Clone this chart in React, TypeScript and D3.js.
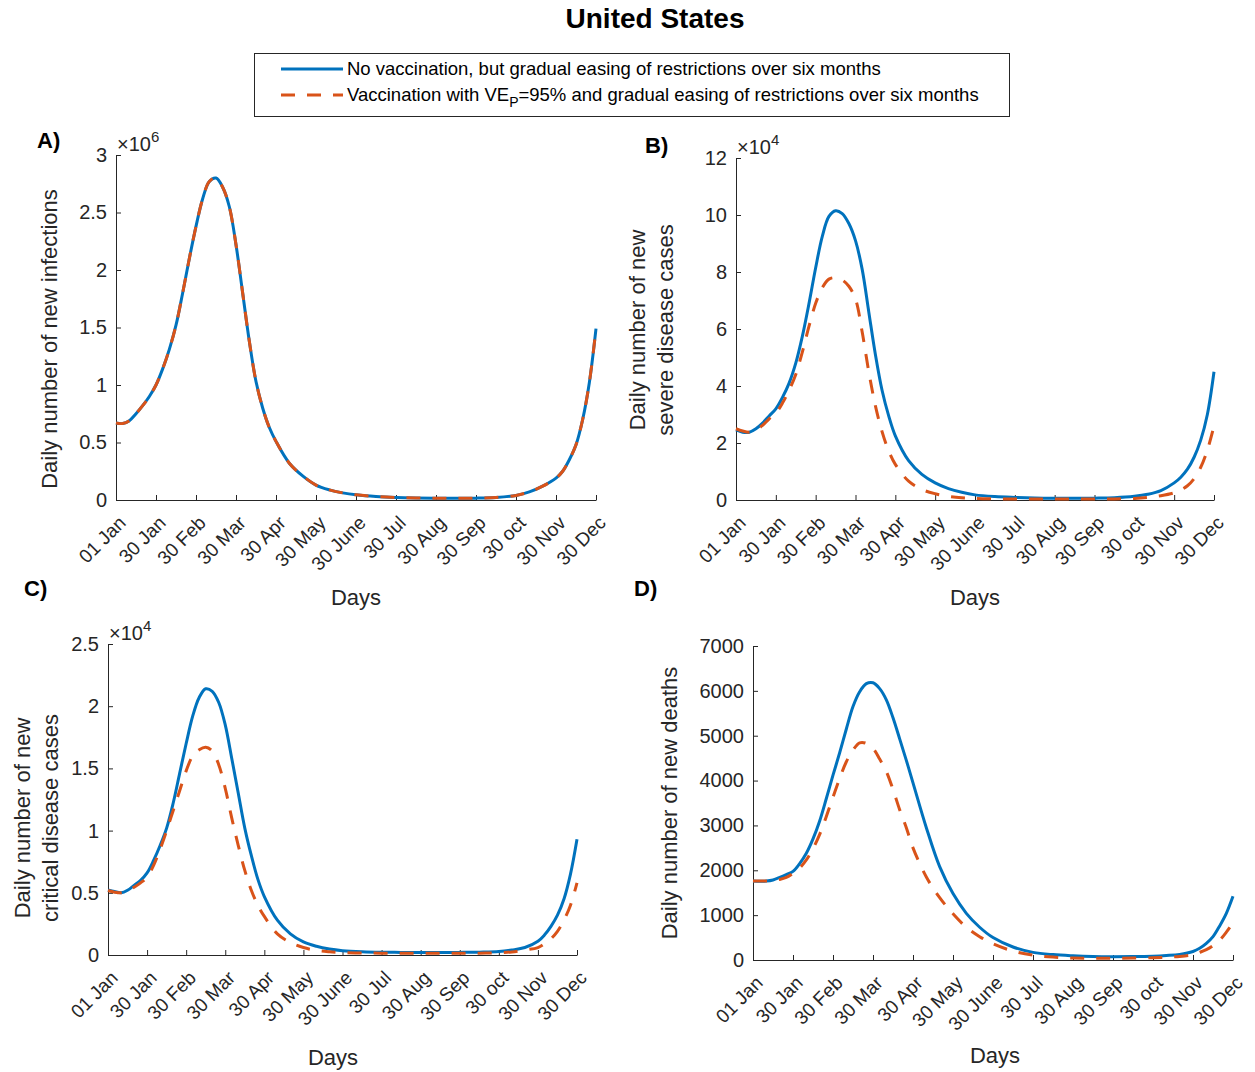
import React, { useRef, useEffect } from "react";
import * as d3 from "d3";

// day grid shared by every series (day 0 = 01 Jan)
const days = [
  0, 5, 10, 15, 20, 25, 30, 35, 40, 45, 50, 55, 60, 65, 70, 75, 80, 85, 90, 95,
  100, 105, 110, 115, 120, 130, 140, 150, 160, 170, 180, 195, 210, 225, 240,
  255, 270, 285, 300, 310, 320, 330, 335, 340, 345, 350, 355, 360,
];

const tickDays = [0, 30, 60, 90, 120, 150, 180, 210, 240, 270, 300, 330, 360];
const tickLabels = [
  "01 Jan", "30 Jan", "30 Feb", "30 Mar", "30 Apr", "30 May", "30 June",
  "30 Jul", "30 Aug", "30 Sep", "30 oct", "30 Nov", "30 Dec",
];

// A) new infections, x10^6
const infectionsNoVax = [
  0.67, 0.665, 0.69, 0.75, 0.82, 0.9, 1.0, 1.14, 1.31, 1.52, 1.8, 2.1, 2.38,
  2.62, 2.77, 2.8, 2.72, 2.55, 2.22, 1.8, 1.38, 1.03, 0.8, 0.63, 0.51, 0.32,
  0.21, 0.13, 0.088, 0.062, 0.045, 0.03, 0.022, 0.018, 0.016, 0.015, 0.016,
  0.022, 0.04, 0.07, 0.12, 0.19, 0.25, 0.35, 0.48, 0.7, 1.02, 1.49,
];
const infectionsVax = [
  0.67, 0.665, 0.69, 0.75, 0.82, 0.9, 1.0, 1.14, 1.31, 1.52, 1.8, 2.1, 2.38,
  2.62, 2.77, 2.8, 2.72, 2.55, 2.22, 1.8, 1.38, 1.03, 0.8, 0.63, 0.51, 0.32,
  0.21, 0.13, 0.088, 0.062, 0.045, 0.03, 0.022, 0.018, 0.016, 0.015, 0.016,
  0.022, 0.04, 0.07, 0.12, 0.19, 0.25, 0.35, 0.48, 0.7, 1.02, 1.49,
];

// B) new severe disease cases, x10^4
const severeNoVax = [
  2.46, 2.38, 2.38, 2.5, 2.7, 2.95, 3.2, 3.6, 4.1, 4.8, 5.75, 6.9, 8.15, 9.25,
  9.95, 10.15, 10.05, 9.7, 9.1, 8.1, 6.6, 5.1, 3.85, 2.95, 2.25, 1.38, 0.9,
  0.6, 0.4, 0.27, 0.18, 0.12, 0.09, 0.07, 0.06, 0.06, 0.065, 0.08, 0.13, 0.2,
  0.33, 0.6, 0.8, 1.08, 1.5, 2.1, 3.0, 4.5,
];
const severeVax = [
  2.5, 2.42, 2.38, 2.45, 2.62, 2.85, 3.05, 3.4, 3.85, 4.4, 5.2, 6.1, 6.9,
  7.45, 7.75, 7.8, 7.72, 7.5, 7.05, 5.9, 4.5, 3.3, 2.4, 1.72, 1.25, 0.66,
  0.37, 0.22, 0.13, 0.08, 0.055, 0.04, 0.035, 0.033, 0.032, 0.032, 0.033,
  0.038, 0.055, 0.09, 0.15, 0.25, 0.35, 0.5, 0.75, 1.15, 1.75, 2.6,
];

// C) new critical disease cases, x10^4
const criticalNoVax = [
  0.523, 0.51, 0.5, 0.52, 0.56, 0.6, 0.66, 0.76, 0.88, 1.02, 1.22, 1.46, 1.7,
  1.92, 2.07, 2.14, 2.12, 2.03, 1.85, 1.58, 1.3, 1.02, 0.8, 0.61, 0.47, 0.28,
  0.17, 0.105, 0.07, 0.048, 0.035, 0.026, 0.022, 0.021, 0.02, 0.02, 0.021,
  0.023, 0.028, 0.04, 0.06, 0.11, 0.16, 0.23, 0.32, 0.45, 0.65, 0.93,
];
const criticalVax = [
  0.518, 0.505, 0.5, 0.515, 0.545, 0.58, 0.625, 0.72, 0.85, 1.0, 1.16, 1.32,
  1.48, 1.6, 1.65, 1.67, 1.64, 1.53, 1.34, 1.1, 0.88, 0.68, 0.52, 0.4, 0.31,
  0.17, 0.1, 0.06, 0.037, 0.026, 0.02, 0.016, 0.015, 0.014, 0.014, 0.014,
  0.014, 0.015, 0.018, 0.025, 0.04, 0.06, 0.09, 0.13, 0.19, 0.28, 0.4, 0.58,
];

// D) new deaths
const deathsNoVax = [
  1760, 1755, 1760, 1785, 1840, 1905, 1975, 2150, 2380, 2700, 3100, 3600,
  4120, 4620, 5150, 5650, 5980, 6160, 6180, 6050, 5800, 5400, 4930, 4450,
  3950, 2950, 2080, 1480, 1040, 730, 500, 290, 170, 120, 95, 80, 75, 76, 85,
  100, 125, 190, 260, 370, 520, 760, 1040, 1420,
];
const deathsVax = [
  1760, 1760, 1762, 1775, 1795, 1840, 1930, 2050, 2230, 2480, 2800, 3200,
  3630, 4050, 4420, 4680, 4840, 4830, 4720, 4480, 4200, 3800, 3350, 2950,
  2500, 1850, 1390, 1030, 730, 520, 360, 200, 110, 65, 45, 40, 40, 42, 50, 62,
  80, 120, 170, 230, 320, 440, 620, 830,
];

const legendLabels = [
  "No vaccination, but gradual easing of restrictions over six months",
  "Vaccination with VE",
];

const BLUE = "#0072BD";
const ORANGE = "#D95319";
const AXIS = "#262626";
const FONT = "'Liberation Sans', Arial, Helvetica, sans-serif";
const DASH = "14,12";

const panels = [
  {
    letter: "A)", letterPos: [37, 148],
    left: 116, right: 596, top: 155, bottom: 500,
    yMax: 3, yStep: 0.5, exponent: "6",
    yLabel: ["Daily number of new infections"], yLabelX: [57], yLabelY: 339,
    daysPos: [356, 605],
    noVax: infectionsNoVax, vax: infectionsVax,
  },
  {
    letter: "B)", letterPos: [645, 153],
    left: 736, right: 1214, top: 158, bottom: 500,
    yMax: 12, yStep: 2, exponent: "4",
    yLabel: ["Daily number of new", "severe disease cases"], yLabelX: [645, 673], yLabelY: 330,
    daysPos: [975, 605],
    noVax: severeNoVax, vax: severeVax,
  },
  {
    letter: "C)", letterPos: [24, 596],
    left: 108, right: 577, top: 644, bottom: 955,
    yMax: 2.5, yStep: 0.5, exponent: "4",
    yLabel: ["Daily number of new", "critical disease cases"], yLabelX: [30, 58], yLabelY: 818,
    daysPos: [333, 1065],
    noVax: criticalNoVax, vax: criticalVax,
  },
  {
    letter: "D)", letterPos: [634, 596],
    left: 753, right: 1233, top: 646, bottom: 960,
    yMax: 7000, yStep: 1000, exponent: null,
    yLabel: ["Daily number of new deaths"], yLabelX: [677], yLabelY: 803,
    daysPos: [995, 1063],
    noVax: deathsNoVax, vax: deathsVax,
  },
];

function App() {
  const svgRef = useRef<SVGSVGElement>(null);

  useEffect(() => {
    document.body.style.margin = "0";
    const svg = d3.select(svgRef.current);
    svg.selectAll("*").remove();
    svg.attr("font-family", FONT);

    // title
    svg
      .append("text")
      .attr("x", 655)
      .attr("y", 28)
      .attr("text-anchor", "middle")
      .attr("font-size", 28)
      .attr("font-weight", "bold")
      .attr("fill", "#000")
      .text("United States");

    // legend
    const legend = svg.append("g");
    legend
      .append("rect")
      .attr("x", 254.5)
      .attr("y", 53.5)
      .attr("width", 755)
      .attr("height", 63)
      .attr("fill", "#fff")
      .attr("stroke", AXIS)
      .attr("stroke-width", 1);
    legend
      .append("line")
      .attr("x1", 281).attr("x2", 343).attr("y1", 69).attr("y2", 69)
      .attr("stroke", BLUE).attr("stroke-width", 3);
    legend
      .append("line")
      .attr("x1", 281).attr("x2", 343).attr("y1", 95).attr("y2", 95)
      .attr("stroke", ORANGE).attr("stroke-width", 3)
      .attr("stroke-dasharray", DASH);
    legend
      .append("text")
      .attr("x", 347).attr("y", 75)
      .attr("font-size", 18.5).attr("fill", "#000")
      .text(legendLabels[0]);
    const t2 = legend
      .append("text")
      .attr("x", 347).attr("y", 101)
      .attr("font-size", 18.5).attr("fill", "#000");
    t2.append("tspan").text(legendLabels[1]);
    t2.append("tspan").attr("dy", 6).attr("font-size", 14).text("P");
    t2.append("tspan").attr("dy", -6).text("=95% and gradual easing of restrictions over six months");

    panels.forEach((p) => {
      const g = svg.append("g");
      const x = d3.scaleLinear().domain([0, 360]).range([p.left, p.right]);
      const y = d3.scaleLinear().domain([0, p.yMax]).range([p.bottom, p.top]);
      const yTicks = d3.range(0, p.yMax + p.yStep / 2, p.yStep);

      // y axis
      g.append("g")
        .attr("transform", `translate(${p.left},0)`)
        .call(
          d3.axisLeft(y)
            .tickValues(yTicks)
            .tickSizeInner(-5)
            .tickSizeOuter(0)
            .tickPadding(9)
            .tickFormat(d3.format("~g"))
        )
        .call((a) => a.select(".domain").attr("stroke", AXIS))
        .call((a) => a.selectAll("line").attr("stroke", AXIS))
        .call((a) =>
          a.selectAll("text")
            .attr("font-size", 20)
            .attr("font-family", FONT)
            .attr("fill", AXIS)
        );

      // x axis
      g.append("g")
        .attr("transform", `translate(0,${p.bottom})`)
        .call(
          d3.axisBottom(x)
            .tickValues(tickDays)
            .tickSizeInner(-5)
            .tickSizeOuter(0)
            .tickFormat(() => "")
        )
        .call((a) => a.select(".domain").attr("stroke", AXIS))
        .call((a) => a.selectAll("line").attr("stroke", AXIS));

      g.append("g")
        .selectAll("text")
        .data(tickDays)
        .join("text")
        .attr("transform", (d) => `translate(${x(d) + 11},${p.bottom + 24}) rotate(-45)`)
        .attr("text-anchor", "end")
        .attr("font-size", 19)
        .attr("fill", AXIS)
        .text((d, i) => tickLabels[i]);

      // exponent
      if (p.exponent) {
        const ex = g
          .append("text")
          .attr("x", p.left + 1)
          .attr("y", p.top - 4)
          .attr("font-size", 20)
          .attr("fill", AXIS);
        ex.append("tspan").text("\u00d710");
        ex.append("tspan").attr("dy", -9).attr("font-size", 15).text(p.exponent);
      }

      // y label
      p.yLabel.forEach((line, i) => {
        g.append("text")
          .attr("transform", `translate(${p.yLabelX[i]},${p.yLabelY}) rotate(-90)`)
          .attr("text-anchor", "middle")
          .attr("font-size", 22)
          .attr("fill", AXIS)
          .text(line);
      });

      // x label
      g.append("text")
        .attr("x", p.daysPos[0])
        .attr("y", p.daysPos[1])
        .attr("text-anchor", "middle")
        .attr("font-size", 22)
        .attr("fill", AXIS)
        .text("Days");

      // panel letter
      g.append("text")
        .attr("x", p.letterPos[0])
        .attr("y", p.letterPos[1])
        .attr("font-size", 22)
        .attr("font-weight", "bold")
        .attr("fill", "#000")
        .text(p.letter);

      const line = d3
        .line<number>()
        .x((d, i) => x(days[i]))
        .y((d) => y(d))
        .curve(d3.curveCatmullRom.alpha(0.5));

      g.append("path")
        .attr("d", line(p.noVax))
        .attr("fill", "none")
        .attr("stroke", BLUE)
        .attr("stroke-width", 3);

      g.append("path")
        .attr("d", line(p.vax))
        .attr("fill", "none")
        .attr("stroke", ORANGE)
        .attr("stroke-width", 3)
        .attr("stroke-dasharray", DASH);
    });
  }, []);

  return (
    <div style={{ background: "#fff" }}>
      <svg ref={svgRef} width={1255} height={1072} style={{ display: "block" }}></svg>
    </div>
  );
}

export default App;
